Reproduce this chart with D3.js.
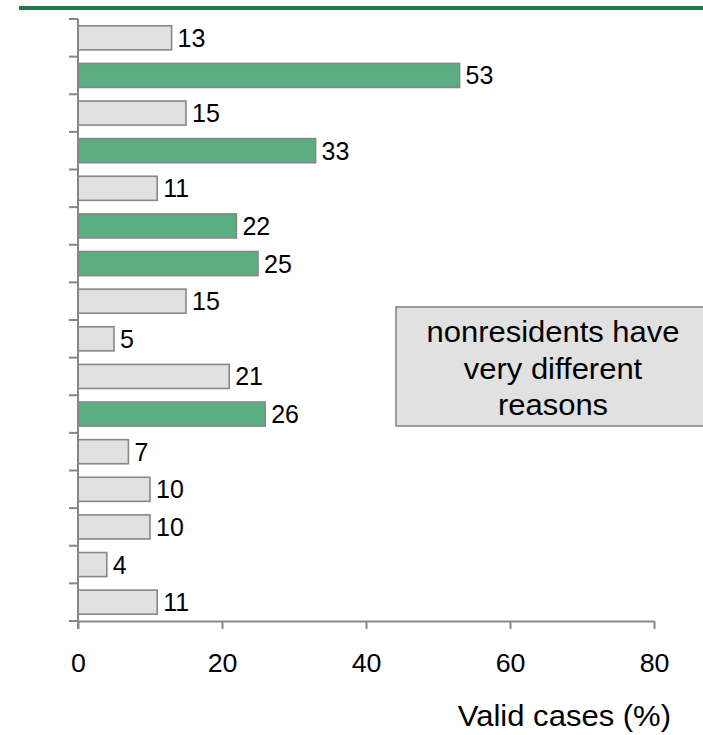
<!DOCTYPE html>
<html>
<head>
<meta charset="utf-8">
<script src="https://cdn.jsdelivr.net/npm/d3@7"></script>
<style>
  body { margin: 0; background: #fff; }
  svg { display: block; font-family: "Liberation Sans", Arial, sans-serif; }
</style>
</head>
<body>
<svg id="chart" width="703" height="735"></svg>
<script>
// values per row, top to bottom
const values = [13, 53, 15, 33, 11, 22, 25, 15, 5, 21, 26, 7, 10, 10, 4, 11];
const highlighted = [false, true, false, true, false, true, true, false, false, false, true, false, false, false, false, false];
const xTicks = [0, 20, 40, 60, 80];
const xTitle = 'Valid cases (%)';
const noteLines = ['nonresidents have', 'very different', 'reasons'];

const svg = d3.select('#chart');
const GRAY = '#878787';

// top rule
svg.append('rect').attr('x', 19).attr('y', 6).attr('width', 690).attr('height', 4).attr('fill', '#1b7a50');

const x = d3.scaleLinear().domain([0, 80]).range([78, 654]);
const y = d3.scaleBand().domain(d3.range(values.length)).range([19, 621]).paddingInner(0.36).paddingOuter(0.18);

// bars
svg.selectAll('rect.bar').data(values).join('rect')
  .attr('class', 'bar')
  .attr('x', x(0))
  .attr('y', (d, i) => y(i))
  .attr('width', d => x(d) - x(0))
  .attr('height', y.bandwidth())
  .attr('fill', (d, i) => highlighted[i] ? '#5aae82' : '#e1e1e1')
  .attr('stroke', GRAY)
  .attr('stroke-width', 1.6);

// value labels
svg.selectAll('text.val').data(values).join('text')
  .attr('class', 'val')
  .attr('x', d => x(d) + 6)
  .attr('y', (d, i) => y(i) + y.bandwidth() / 2)
  .attr('dy', '0.36em')
  .attr('font-size', 25)
  .attr('fill', '#000')
  .text(d => d);

// y axis with ticks at band boundaries
const step = (621 - 19) / values.length;
const yEdges = d3.range(values.length + 1).map(i => 19 + i * step);
svg.append('line').attr('x1', x(0)).attr('x2', x(0)).attr('y1', 19).attr('y2', 629)
  .attr('stroke', GRAY).attr('stroke-width', 2);
svg.selectAll('line.ytick').data(yEdges).join('line')
  .attr('class', 'ytick')
  .attr('x1', 69).attr('x2', x(0))
  .attr('y1', d => d).attr('y2', d => d)
  .attr('stroke', GRAY).attr('stroke-width', 2);

// x axis (labels slightly wide, as in the original export)
const xAxis = svg.append('g').attr('transform', 'translate(0,621)')
  .call(d3.axisBottom(x).tickValues(xTicks).tickSize(8).tickPadding(10).tickSizeOuter(0));
xAxis.select('.domain').attr('stroke', GRAY).attr('stroke-width', 2);
xAxis.selectAll('.tick line').attr('stroke', GRAY).attr('stroke-width', 2);
xAxis.selectAll('.tick text').attr('font-size', 25).attr('fill', '#000')
  .attr('font-family', '"Liberation Sans", Arial, sans-serif')
  .attr('y', 51).attr('dy', null)
  .attr('transform', 'scale(1.07,1)');

svg.append('text')
  .attr('transform', 'translate(671,726) scale(1.07,1)')
  .attr('text-anchor', 'end')
  .attr('font-size', 29).attr('fill', '#000').text(xTitle);

// annotation box
svg.append('rect').attr('x', 396).attr('y', 307).attr('width', 320).attr('height', 119)
  .attr('fill', '#e1e1e1').attr('stroke', GRAY).attr('stroke-width', 1.6);
svg.selectAll('text.note').data(noteLines).join('text')
  .attr('class', 'note')
  .attr('transform', (d, i) => `translate(553,${342 + i * 36.5}) scale(1.05,1)`)
  .attr('text-anchor', 'middle')
  .attr('font-size', 29.5)
  .attr('fill', '#000')
  .text(d => d);
</script>
</body>
</html>
